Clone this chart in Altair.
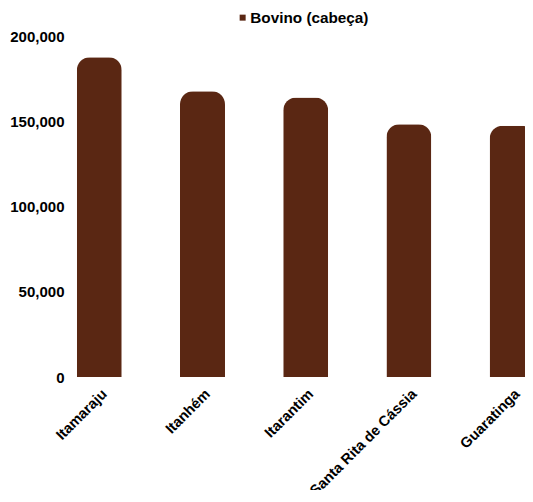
import altair as alt
import pandas as pd

categories = ["Itamaraju", "Itanhém", "Itarantim", "Santa Rita de Cássia", "Guaratinga"]
values = [187600, 167600, 163900, 148200, 147400]
series_name = "Bovino (cabeça)"
y_ticks = [0, 50000, 100000, 150000, 200000]

df = pd.DataFrame({"municipio": categories, "valor": values, "serie": [series_name] * len(categories)})

FONT = "Liberation Sans"

chart = alt.Chart(df).mark_bar(
    cornerRadiusTopLeft=13, cornerRadiusTopRight=13
).encode(
    x=alt.X("municipio:N", sort=categories, title=None,
            scale=alt.Scale(range=[6.8, 464.6], paddingInner=0.564, paddingOuter=0),
            axis=alt.Axis(labelAngle=315, labelAlign="right", labelBaseline="top",
                          labelFont=FONT, labelFontSize=14.6, labelFontWeight="bold",
                          labelColor="#000000", labelPadding=9,
                          domain=False, ticks=False, grid=False)),
    y=alt.Y("valor:Q", title=None,
            scale=alt.Scale(domain=[0, 200000], nice=False),
            axis=alt.Axis(values=y_ticks, format=",.0f", labelFont=FONT, labelFontSize=15,
                          labelFontWeight="bold", labelColor="#000000", labelPadding=6,
                          domain=False, ticks=False, grid=False)),
    color=alt.Color("serie:N", title=None,
                    scale=alt.Scale(range=["#5A2713"]),
                    legend=alt.Legend(orient="none", legendX=165, legendY=-26,
                                      symbolType="square", symbolSize=36,
                                      labelFont=FONT, labelFontSize=15.3, labelFontWeight="bold",
                                      labelColor="#000000", labelOffset=0)),
).properties(
    width=455, height=341,
    autosize=alt.AutoSizeParams(type="none"),
    padding={"left": 62, "top": 28, "right": 0, "bottom": 113},
).configure_view(stroke=None)

chart.save("out.html", embed_options={"renderer": "svg", "actions": False})
